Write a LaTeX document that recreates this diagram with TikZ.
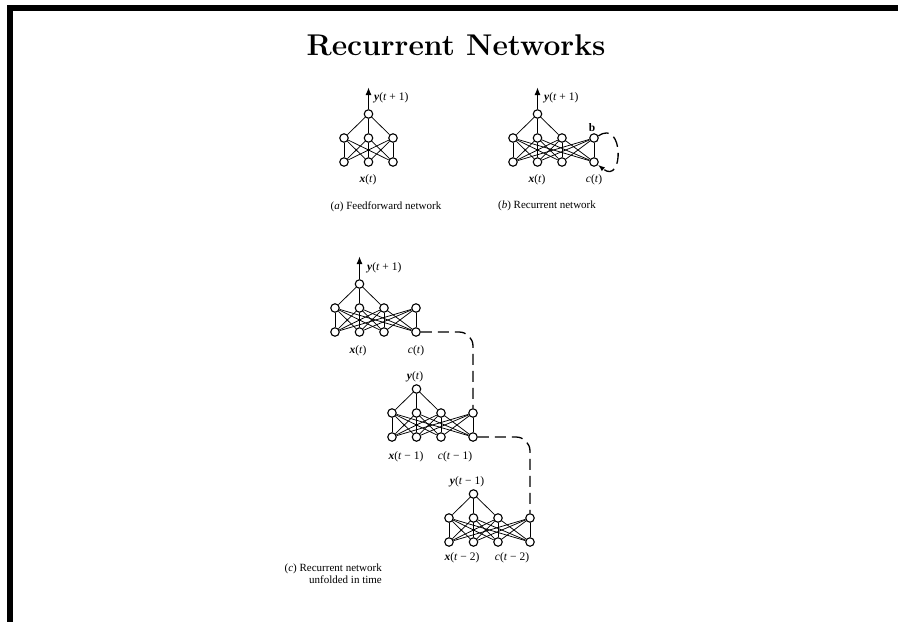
\documentclass[tikz,border=0pt]{standalone}
\usepackage{fontspec}
\newfontfamily\labserif{Liberation Serif}
\usetikzlibrary{arrows.meta}

\newcommand\labfont{\labserif\fontsize{11.5}{12.5}\selectfont}
\newcommand\capfont{\labserif\fontsize{11}{12}\selectfont}
\newcommand\bivar[1]{\textbf{\textit{#1}}}
\newcommand\itvar[1]{\textit{#1}}

\tikzset{
  unit/.style={circle, draw, line width=1.1pt, minimum size=8.5pt, inner sep=0pt, fill=white},
  wire/.style={line width=0.75pt},
  outarrow/.style={line width=1.8pt, -{Latex[length=8pt,width=6pt]}},
  feedback/.style={line width=1.3pt, dash pattern=on 11pt off 6pt},
  lab/.style={font=\labfont, inner sep=0pt},
  caption/.style={font=\capfont, inner sep=0pt, align=right},
}

% #1 name prefix, #2 x of the left column, #3 y of the output unit,
% #4 number of units in the hidden and input layers (3 or 4)
\newcommand\drawnet[4]{%
  \node[unit] (#1o) at (#2+24.5,#3) {};
  \foreach \k/\dx in {1/0,2/24.5,3/49,4/81}{%
    \ifnum\k>#4\relax\else
      \node[unit] (#1h\k) at (#2+\dx,#3+24) {};
      \node[unit] (#1i\k) at (#2+\dx,#3+48) {};
    \fi}
  \foreach \k in {1,2,3} \draw[wire] (#1o) -- (#1h\k);
  \foreach \k in {1,...,#4} \foreach \m in {1,...,#4} \draw[wire] (#1h\k) -- (#1i\m);
}

\begin{document}
\begin{tikzpicture}[x={(1pt,0)}, y={(0,-1pt)}]
\useasboundingbox (0,0) rectangle (898,622);

% frame bars
\fill (7,5) rectangle (898,11);
\fill (7,5) rectangle (13,622);

% title
\node[anchor=base, inner sep=0pt, font=\fontsize{30}{36}\selectfont\bfseries] (title) at (456,55) {Recurrent Networks};

% (a) feedforward network
\drawnet{a}{344}{114}{3}
\coordinate (atip) at (368.5,87);
\draw[outarrow] (ao) -- (atip);
\node[lab, anchor=west] (ay) at (374,98) {\bivar{y}(\itvar{t} + 1)};
\node[lab] (ax) at (368,180) {\bivar{x}(\itvar{t})};
\node[caption] (acap) at (386,207) {(\itvar{a}) Feedforward network};

% (b) recurrent network
\drawnet{b}{513}{114}{4}
\coordinate (btip) at (537.5,87);
\draw[outarrow] (bo) -- (btip);
\node[lab, anchor=west] (by) at (544,98) {\bivar{y}(\itvar{t} + 1)};
\node[lab] (bx) at (537,180) {\bivar{x}(\itvar{t})};
\node[lab] (bc) at (594,180) {\itvar{c}(\itvar{t})};
\node[lab, font=\labfont\bfseries] (bb) at (592,128) {b};
\draw[feedback, -{Latex[length=7pt,width=5pt]}] (bh4.25) .. controls (624,118) and (624,186) .. (bi4.-35);
\node[caption] (bcap) at (547,206) {(\itvar{b}) Recurrent network};

% (c) recurrent network unfolded in time
\drawnet{c}{335}{284}{4}
\coordinate (ctip) at (359.5,256);
\draw[outarrow] (co) -- (ctip);
\node[lab, anchor=west] (cy) at (367,268) {\bivar{y}(\itvar{t} + 1)};
\node[lab] (cx) at (358,351) {\bivar{x}(\itvar{t})};
\node[lab] (cc) at (416,351) {\itvar{c}(\itvar{t})};

\drawnet{d}{392}{389}{4}
\node[lab] (dy) at (415,377) {\bivar{y}(\itvar{t})};
\node[lab] (dx) at (406,457) {\bivar{x}(\itvar{t} − 1)};
\node[lab] (dc) at (455,457) {\itvar{c}(\itvar{t} − 1)};

\drawnet{e}{449}{494}{4}
\node[lab] (ey) at (467,482) {\bivar{y}(\itvar{t} − 1)};
\node[lab] (ex) at (462,558) {\bivar{x}(\itvar{t} − 2)};
\node[lab] (ec) at (512,558) {\itvar{c}(\itvar{t} − 2)};

\draw[feedback, rounded corners=14pt] (ci4) -| (dh4);
\draw[feedback, rounded corners=14pt] (di4) -| (eh4);

\node[caption, anchor=east] (ccap) at (382,574) {(\itvar{c}) Recurrent network\\unfolded in time};
\end{tikzpicture}
\end{document}
